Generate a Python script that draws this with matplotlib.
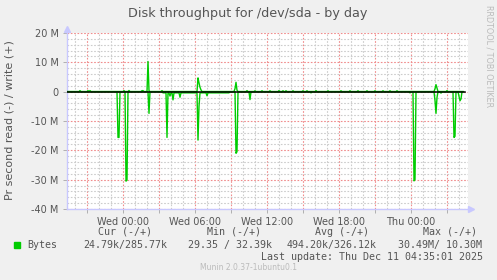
import numpy as np
import matplotlib.pyplot as plt
from matplotlib.ticker import FixedLocator, MultipleLocator

# time axis in hours relative to Wed 00:00, 5 minute samples
t_start = -4.667
t_end = 28.75
data_end = 28.33

# read (plotted negative) and write, in MB/s
read_base = 0.03
read_plateaus = [(3.30, 8.90, 0.4)]
read_hours = [-0.42, -0.33, 0.25, 0.33, 2.17, 3.67, 3.92, 4.17, 4.75,
              6.25, 6.33, 6.97, 9.42, 9.50, 10.58, 15.67, 23.92, 24.25,
              24.33, 26.00, 26.08, 26.17, 26.50, 27.58, 27.67, 28.00,
              28.08, 28.17]
read_vals = [15.6, 15.6, 30.49, 30.2, 7.4, 15.6, 1.5, 2.8, 1.9,
             16.5, 5.0, 1.4, 21.0, 20.5, 2.7, 0.4, 0.4, 30.4,
             30.0, 3.0, 7.4, 2.0, 0.5, 15.6, 15.2, 1.5,
             3.1, 2.5]

write_base = 0.05
write_hours = [-3.58, -2.92, -2.75, 0.08, 0.54, 1.58, 1.67, 2.08, 2.17,
               3.25, 6.25, 6.33, 6.42, 6.50, 9.33, 9.42, 9.50, 10.33,
               11.0, 11.6, 12.25, 13.0, 13.3, 13.55, 14.2, 15.0, 15.3,
               16.05, 17.1, 18.2, 18.9, 19.6, 20.3, 21.0, 21.7, 22.25,
               22.8, 26.00, 26.08, 26.17, 27.00]
write_vals = [0.35, 0.35, 0.35, 0.35, 0.4, 0.35, 0.35, 10.3, 0.3,
              0.35, 4.7, 3.0, 1.5, 0.6, 1.0, 3.2, 0.5, 0.35,
              0.3, 0.3, 0.3, 0.35, 0.3, 0.3, 0.3, 0.3, 0.3,
              0.35, 0.3, 0.3, 0.3, 0.3, 0.3, 0.3, 0.3, 0.3,
              0.3, 1.0, 2.4, 1.2, 0.35]

tick_hours = [0, 6, 12, 18, 24]
tick_labels = ["Wed 00:00", "Wed 06:00", "Wed 12:00", "Wed 18:00", "Thu 00:00"]
y_ticks = [20, 10, 0, -10, -20, -30, -40]
y_labels = ["20 M", "10 M", "0", "-10 M", "-20 M", "-30 M", "-40 M"]

stats_heads = ["Cur (-/+)", "Min (-/+)", "Avg (-/+)", "Max (-/+)"]
stats_vals = ["24.79k/285.77k", "29.35 / 32.39k", "494.20k/326.12k", "30.49M/ 10.30M"]

# build the sample series
step = 5 / 60
t = np.arange(t_start, data_end + step / 2, step)
read = np.full(len(t), read_base)
for a, b, v in read_plateaus:
    read[(t >= a) & (t <= b)] = v
for h, v in zip(read_hours, read_vals):
    read[np.argmin(np.abs(t - h))] = v
write = np.full(len(t), write_base)
for h, v in zip(write_hours, write_vals):
    write[np.argmin(np.abs(t - h))] = v

bg = '#F0F0F0'
green = '#00CC00'
axis_col = '#C8C8FF'
W, H = 497, 280

fig = plt.figure(figsize=(W / 100, H / 100), dpi=100, facecolor=bg)
ax = fig.add_axes([67 / W, 1 - 209 / H, 401 / W, 176 / H])
ax.set_facecolor('white')

ax.set_xlim(t_start, t_end)
ax.set_ylim(-40, 20)

# grid
ax.xaxis.set_major_locator(FixedLocator(np.arange(-3, 28, 3)))
ax.xaxis.set_minor_locator(MultipleLocator(1))
ax.yaxis.set_major_locator(FixedLocator(y_ticks))
ax.yaxis.set_minor_locator(MultipleLocator(2))
ax.grid(which='minor', color='#CCCCCC', linestyle=(0, (1.5, 1.5)), linewidth=0.8)
ax.grid(which='major', color='#F08C8C', linestyle=(0, (1.5, 1.5)), linewidth=0.8)
ax.set_axisbelow(True)

xlabels = [tick_labels[tick_hours.index(h)] if h in tick_hours else ''
           for h in np.arange(-3, 28, 3)]
ax.set_xticklabels(xlabels)
ax.set_yticklabels(y_labels)
ax.tick_params(which='major', length=3, width=0.7, color='#B0B0B0',
               labelsize=7, labelcolor='#555555', pad=3)
ax.tick_params(which='minor', length=0)

for s in ['top', 'right']:
    ax.spines[s].set_visible(False)
for s in ['left', 'bottom']:
    ax.spines[s].set_color(axis_col)
    ax.spines[s].set_linewidth(1)
ax.plot([0], [1.02], marker='^', color=axis_col, markersize=5,
        transform=ax.transAxes, clip_on=False)
ax.plot([1.008], [0], marker='>', color=axis_col, markersize=5,
        transform=ax.transAxes, clip_on=False)

ax.plot(t, write, color=green, linewidth=1.0, zorder=3)
ax.plot(t, -read, color=green, linewidth=1.0, zorder=3)
ax.plot([t_start, data_end + 0.15], [0, 0], color='black', linewidth=1.1, zorder=4)

# texts
fig.text(248 / W, 1 - 13 / H, "Disk throughput for /dev/sda - by day",
         ha='center', va='center', fontsize=9.2, color='#555555')
fig.text(10 / W, 1 - 120 / H, "Pr second read (-) / write (+)", rotation=90,
         ha='center', va='center', fontsize=8, color='#555555')
fig.text(489 / W, 1 - 56 / H, "RRDTOOL / TOBI OETIKER", rotation=270,
         ha='center', va='center', fontsize=5.8, color='#BBBBBB')

mono = 'DejaVu Sans Mono'
head_x = [98, 207, 315, 423]
val_x = [83, 188, 287, 398]
for hx, vx, head, val in zip(head_x, val_x, stats_heads, stats_vals):
    fig.text(hx / W, 1 - 232 / H, head, ha='left', va='center',
             fontsize=7.2, family=mono, color='#555555')
    fig.text(vx / W, 1 - 245 / H, val, ha='left', va='center',
             fontsize=7.2, family=mono, color='#555555')
fig.patches.append(plt.Rectangle((14 / W, 1 - 248 / H), 6 / W, 6 / H,
                                 color=green, transform=fig.transFigure))
fig.text(27 / W, 1 - 245 / H, "Bytes", ha='left', va='center',
         fontsize=7.2, family=mono, color='#555555')
fig.text(483 / W, 1 - 257 / H, "Last update: Thu Dec 11 04:35:01 2025",
         ha='right', va='center', fontsize=7.2, family=mono, color='#555555')
fig.text(248 / W, 1 - 268 / H, "Munin 2.0.37-1ubuntu0.1", ha='center',
         va='center', fontsize=5.5, color='#BBBBBB')

fig.savefig('out.png', dpi=100, facecolor=bg)
